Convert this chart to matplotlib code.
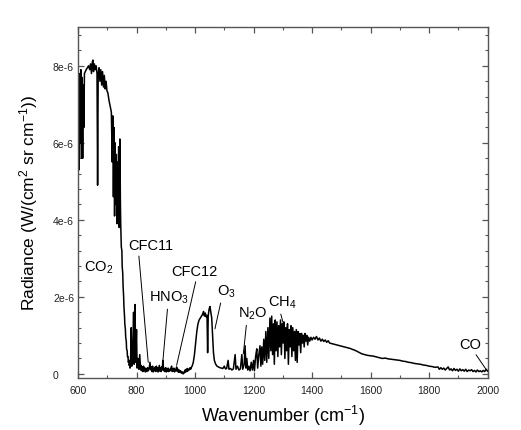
import matplotlib
matplotlib.use("Agg")
import matplotlib.pyplot as plt
from matplotlib.ticker import MultipleLocator, FuncFormatter
import numpy as np

plt.rcParams['font.family'] = ['Liberation Sans', 'DejaVu Sans']
plt.rcParams['mathtext.default'] = 'regular'

# Spectrum: wavenumber (cm^-1) and radiance (units of 1e-6 W/(cm2 sr cm-1))
# CO2 band
co2_wn = [600, 602, 604, 606, 608, 610, 612, 614, 616, 618, 620, 622, 625, 628, 632, 636, 640,
          643, 646, 649, 651, 653, 656, 659, 662, 665, 667, 669, 672, 675, 678, 681, 684, 687,
          690, 693, 696, 699, 702, 706, 710, 714, 717, 719, 721, 723, 725, 727, 729, 731, 733,
          735, 737, 739, 741, 743, 745, 746, 747, 748, 750, 751, 753, 754, 756, 757, 759, 760,
          762, 763, 765, 766, 768, 769, 771, 772, 774, 775, 777, 778, 780, 782, 784, 787, 790,
          792, 795, 797, 800]
co2_rad = [5.0, 7.6, 5.3, 7.8, 6.0, 7.9, 5.6, 7.7, 5.6, 7.5, 6.4, 7.8, 7.85, 7.9, 7.95, 8.0, 7.9,
           8.05, 7.8, 8.1, 8.15, 7.85, 8.05, 7.9, 8.0, 7.8, 4.9, 7.8, 7.95, 7.6, 7.9, 7.5, 7.85, 7.45,
           7.75, 7.4, 7.6, 7.35, 7.3, 7.1, 6.95, 6.8, 5.5, 6.7, 4.6, 6.4, 4.1, 6.0, 4.4, 5.7, 3.9,
           5.5, 4.0, 5.9, 3.8, 6.1, 4.4, 3.9, 3.6, 3.3, 3.2, 2.8, 2.6, 2.3, 2.0, 1.75, 1.5, 1.3,
           1.15, 0.95, 0.85, 0.65, 0.6, 0.45, 0.45, 0.3, 0.35, 0.22, 0.28, 0.15, 0.45, 1.2, 0.2, 0.5, 1.6,
           0.25, 1.8, 0.3, 1.15]

# atmospheric window (CFC11, HNO3, CFC12)
win_wn = [802, 805, 808, 811, 814, 816, 818, 820, 822, 824, 826, 828, 830, 833, 835, 838, 840,
          843, 846, 849, 851, 853, 855, 857, 860, 862, 864, 866, 868, 870, 872, 874, 876, 878,
          880, 882, 884, 886, 888, 890, 893, 895, 897, 900, 902, 904, 906, 908, 910, 913, 915,
          918, 920, 922, 924, 926, 928, 930, 932, 935, 937, 940, 942, 944, 946, 948, 950, 953,
          955, 958, 960, 962, 964, 966, 968, 970, 972, 974, 976, 978, 980, 983, 985, 988, 990]
win_rad = [0.15, 0.4, 0.12, 0.5, 0.1, 0.22, 0.08, 0.18, 0.06, 0.2, 0.1, 0.16, 0.05, 0.14, 0.06,
           0.16, 0.08, 0.12, 0.3, 0.1, 0.18, 0.06, 0.2, 0.05, 0.14, 0.08, 0.18, 0.06, 0.2, 0.1,
           0.16, 0.05, 0.14, 0.22, 0.07, 0.15, 0.06, 0.18, 0.1, 0.35, 0.08, 0.14, 0.06, 0.16,
           0.05, 0.13, 0.07, 0.15, 0.06, 0.12, 0.08, 0.16, 0.2, 0.06, 0.13, 0.07, 0.15, 0.05,
           0.12, 0.08, 0.18, 0.06, 0.12, 0.04, 0.1, 0.05, 0.08, 0.02, 0.06, 0.01, 0.0, 0.05,
           0.03, 0.1, 0.05, 0.12, 0.06, 0.14, 0.08, 0.12, 0.1, 0.16, 0.12, 0.18, 0.2]

# O3 band and N2O region
o3_wn = [994, 998, 1002, 1006, 1010, 1014, 1018, 1022, 1026, 1029, 1032, 1035, 1038, 1041, 1043,
         1045, 1048, 1051, 1054, 1057, 1060, 1063, 1066, 1070, 1075, 1080, 1085, 1090, 1095, 1100,
         1104, 1108, 1113, 1116, 1121, 1126, 1131, 1137, 1140, 1145, 1150, 1155, 1160, 1163, 1168,
         1171, 1174, 1177, 1180, 1184, 1188, 1192, 1196, 1200, 1203, 1207]
o3_rad = [0.3, 0.5, 0.8, 1.1, 1.3, 1.4, 1.45, 1.5, 1.55, 1.62, 1.5, 1.58, 1.48, 1.52, 0.55,
          1.5, 1.68, 1.75, 1.6, 1.45, 1.0, 0.55, 0.35, 0.26, 0.2, 0.18, 0.16, 0.15, 0.14, 0.2,
          0.13, 0.14, 0.35, 0.12, 0.14, 0.1, 0.13, 0.5, 0.12, 0.2, 0.1, 0.13, 0.5, 0.12, 0.25,
          0.73, 0.15, 0.4, 0.1, 0.2, 0.08, 0.3, 0.1, 0.35, 0.08, 0.45]

# CH4 band
ch4_wn = [1211, 1214, 1218, 1222, 1225, 1228, 1231, 1235, 1238, 1242, 1245, 1249, 1252, 1256,
          1259, 1262, 1265, 1268, 1271, 1274, 1277, 1280, 1283, 1286, 1289, 1292, 1295, 1298,
          1301, 1304, 1307, 1310, 1313, 1316, 1319, 1322, 1325, 1328, 1331, 1334, 1337, 1340,
          1343, 1346, 1349, 1352, 1355, 1358, 1361, 1364, 1367, 1370, 1373, 1376, 1379, 1382,
          1385, 1388, 1392, 1396]
ch4_rad = [0.65, 0.15, 0.5, 0.73, 0.2, 0.7, 0.25, 0.9, 0.35, 1.1, 0.3, 1.2, 0.4, 1.45,
           0.6, 1.5, 0.5, 1.3, 0.25, 1.4, 0.6, 1.35, 0.45, 1.25, 0.7, 1.4, 0.5, 1.3,
           0.8, 1.35, 0.4, 1.2, 0.6, 1.3, 0.25, 1.15, 0.7, 1.25, 0.45, 1.2, 0.6, 1.1,
           0.35, 1.15, 0.3, 1.1, 0.75, 1.05, 0.55, 1.05, 0.8, 1.0, 0.7, 1.05, 0.85, 1.0,
           0.75, 0.95, 0.85, 0.95]

# high wavenumber tail (CO at the end)
tail_wn = [1400, 1405, 1410, 1415, 1420, 1425, 1430, 1435, 1440, 1445, 1450, 1455, 1460, 1470,
           1480, 1490, 1500, 1510, 1520, 1530, 1540, 1550, 1560, 1570, 1580, 1590, 1600, 1610,
           1620, 1630, 1640, 1650, 1660, 1670, 1680, 1690, 1700, 1710, 1720, 1730, 1740, 1750,
           1760, 1770, 1780, 1790, 1800, 1810, 1820, 1830, 1835, 1840, 1845, 1850, 1855, 1860,
           1865, 1870, 1875, 1880, 1885, 1890, 1895, 1900, 1905, 1910, 1915, 1920, 1925, 1930,
           1935, 1940, 1945, 1950, 1955, 1960, 1965, 1970, 1975, 1980, 1985, 1990, 1995, 2000]
tail_rad = [0.88, 0.95, 0.9, 0.97, 0.88, 0.93, 0.85, 0.9, 0.84, 0.88, 0.82, 0.86, 0.8, 0.78,
            0.76, 0.74, 0.72, 0.7, 0.68, 0.66, 0.63, 0.6, 0.56, 0.52, 0.5, 0.48, 0.47, 0.46,
            0.44, 0.42, 0.4, 0.41, 0.39, 0.38, 0.37, 0.36, 0.35, 0.33, 0.32, 0.3, 0.29, 0.27,
            0.26, 0.25, 0.23, 0.22, 0.2, 0.19, 0.17, 0.18, 0.12, 0.16, 0.12, 0.15, 0.1, 0.14,
            0.18, 0.1, 0.13, 0.08, 0.14, 0.09, 0.12, 0.07, 0.13, 0.08, 0.11, 0.07, 0.12, 0.06,
            0.1, 0.08, 0.11, 0.06, 0.09, 0.05, 0.1, 0.06, 0.08, 0.05, 0.09, 0.06, 0.12, 0.07]

# labels: text, text position (wn, rad), leader end (wn, rad) or None, leader start on text box
labels = [
    ("CO$_2$", (672, 2.79), None, None),
    ("CFC11", (850, 3.35), (840, 0.3), (0.22, 0.0)),
    ("HNO$_3$", (911, 2.0), (890, 0.32), (0.47, 0.0)),
    ("CFC12", (999, 2.68), (937, 0.22), (0.54, 0.0)),
    ("O$_3$", (1106, 2.16), (1068, 1.17), (0.26, 0.0)),
    ("N$_2$O", (1198, 1.58), (1165, 0.52), (0.29, 0.0)),
    ("CH$_4$", (1299, 1.87), (1302, 1.3), (0.4, 0.0)),
    ("CO", (1940, 0.78), (1997, 0.09), (0.65, 0.0)),
]

wn = np.array(co2_wn + win_wn + o3_wn + ch4_wn + tail_wn)
rad = np.array(co2_rad + win_rad + o3_rad + ch4_rad + tail_rad) * 1e-6

fig = plt.figure(figsize=(5.21, 4.31), dpi=100)
ax = fig.add_axes([0.1497, 0.1213, 0.7863, 0.813])

ax.plot(wn, rad, color='black', lw=1.1)

for txt, pos, tip, rel in labels:
    if tip is None:
        ax.text(pos[0], pos[1] * 1e-6, txt, ha='center', va='center', fontsize=10.5)
    else:
        ax.annotate(txt, xy=(tip[0], tip[1] * 1e-6), xytext=(pos[0], pos[1] * 1e-6),
                    ha='center', va='center', fontsize=10.5,
                    arrowprops=dict(arrowstyle='-', color='black', lw=0.7,
                                    shrinkA=1, shrinkB=0, relpos=rel))

ax.set_xlim(600, 2000)
ax.set_ylim(-0.1e-6, 9e-6)
ax.xaxis.set_major_locator(MultipleLocator(200))
ax.xaxis.set_minor_locator(MultipleLocator(100))
ax.yaxis.set_major_locator(MultipleLocator(2e-6))
ax.yaxis.set_minor_locator(MultipleLocator(0.4e-6))
ax.yaxis.set_major_formatter(FuncFormatter(lambda v, p: "0" if abs(v) < 1e-9 else "%de-6" % round(v * 1e6)))

for s in ax.spines.values():
    s.set_color('#555555')
    s.set_linewidth(1.0)

ax.tick_params(which='both', direction='in', top=True, right=True, colors='#555555',
               labelcolor='#222222', labelsize=7.5)
ax.tick_params(which='major', length=4, width=0.9)
ax.tick_params(which='minor', length=2.5, width=0.8)
ax.tick_params(axis='y', pad=18)
ax.tick_params(axis='x', pad=5)
for lab in ax.get_yticklabels():
    lab.set_ha('left')

ax.set_xlabel("Wavenumber (cm$^{-1}$)", fontsize=13, labelpad=6)
ax.set_ylabel("Radiance (W/(cm$^2$ sr cm$^{-1}$))", fontsize=12.5, labelpad=9)

fig.savefig("out.png", dpi=100)
